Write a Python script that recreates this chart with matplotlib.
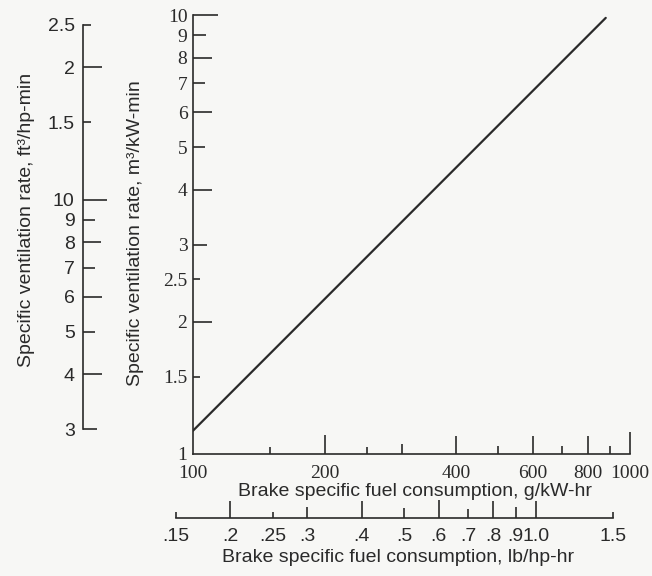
import matplotlib
matplotlib.use("Agg")
import matplotlib.pyplot as plt
from matplotlib.ticker import FixedLocator, FixedFormatter, NullLocator

# line: brake specific fuel consumption (g/kW-hr) vs ventilation rate (m3/kW-min)
bsfc_g = [100, 880]
vent_m3 = [1.13, 9.85]

# main axes ticks
x_ticks = [100, 150, 200, 250, 300, 400, 500, 600, 700, 800, 900, 1000]
x_labels = ["100", "", "200", "", "", "400", "", "600", "", "800", "", "1000"]
y_ticks = [1, 1.5, 2, 2.5, 3, 4, 5, 6, 7, 8, 9, 10]
y_labels = ["1", "1.5", "2", "2.5", "3", "4", "5", "6", "7", "8", "9", "10"]

# secondary scales
ft_ticks = [30, 40, 50, 60, 70, 80, 90, 100, 150, 200, 250]
ft_labels = ["3", "4", "5", "6", "7", "8", "9", "10", "1.5", "2", "2.5"]
lb_ticks = [0.15, 0.2, 0.25, 0.3, 0.4, 0.5, 0.6, 0.7, 0.8, 0.9, 1.0, 1.5]
lb_labels = [".15", ".2", ".25", ".3", ".4", ".5", ".6", ".7", ".8", ".9", "1.0", "1.5"]

M3KW_TO_FT3HP = 26.33   # m3/kW-min -> ft3/hp-min
LBHP_TO_GKW = 608.3     # lb/hp-hr -> g/kW-hr

INK = "#2a2a2a"
BG = "#f7f7f5"
SANS = ["Liberation Sans Narrow", "Liberation Sans", "DejaVu Sans"]
SERIF = ["Liberation Serif", "DejaVu Serif"]
W, H = 652, 576
DECADE = 437  # pixels per decade on both log axes


def set_tick_lengths(axis, lengths_px):
    for tick, L in zip(axis.get_major_ticks(), lengths_px):
        tick.tick1line.set_markersize(L * 0.72)


fig = plt.figure(figsize=(6.52, 5.76), dpi=100, facecolor=BG)
ax = fig.add_axes([193 / W, 122 / H, 437 / W, 439 / H])
ax.set_facecolor("none")

ax.plot(bsfc_g, vent_m3, color=INK, lw=1.6, solid_capstyle="round")
ax.set_xscale("log")
ax.set_yscale("log")
ax.set_xlim(100, 1000)
ax.set_ylim(1, 10)

for s in ["top", "right"]:
    ax.spines[s].set_visible(False)
for s in ["left", "bottom"]:
    ax.spines[s].set_color(INK)
    ax.spines[s].set_linewidth(1.2)

ax.xaxis.set_major_locator(FixedLocator(x_ticks))
ax.xaxis.set_major_formatter(FixedFormatter(x_labels))
ax.xaxis.set_minor_locator(NullLocator())
ax.yaxis.set_major_locator(FixedLocator(y_ticks))
ax.yaxis.set_major_formatter(FixedFormatter(y_labels))
ax.yaxis.set_minor_locator(NullLocator())
ax.tick_params(axis="both", direction="in", width=1.2, color=INK,
               labelcolor=INK, labelsize=14)
ax.tick_params(axis="x", pad=8)
ax.tick_params(axis="y", pad=4)
for lab in ax.get_xticklabels() + ax.get_yticklabels():
    lab.set_family(SERIF)
set_tick_lengths(ax.xaxis, [0, 7, 19, 7, 10, 18, 8, 18, 8, 18, 8, 22])
set_tick_lengths(ax.yaxis, [0, 7, 19, 7, 14, 19, 12, 19, 12, 19, 13, 25])

# outer left scale, ft3/hp-min
ax2 = ax.twinx()
ax2.set_yscale("log")
ax2.set_ylim(1 * M3KW_TO_FT3HP, 10 * M3KW_TO_FT3HP)
ax2.yaxis.set_ticks_position("left")
for s in ["top", "right", "bottom"]:
    ax2.spines[s].set_visible(False)
ax2.spines["left"].set_position(("axes", -110 / 437))
ax2.spines["left"].set_bounds(ft_ticks[0], ft_ticks[-1])
ax2.spines["left"].set_color(INK)
ax2.spines["left"].set_linewidth(1.2)
ax2.yaxis.set_major_locator(FixedLocator(ft_ticks))
ax2.yaxis.set_major_formatter(FixedFormatter(ft_labels))
ax2.yaxis.set_minor_locator(NullLocator())
ax2.tick_params(axis="y", direction="in", width=1.2, color=INK,
                labelcolor=INK, labelsize=14, pad=6)
for lab in ax2.get_yticklabels():
    lab.set_family(SANS)
set_tick_lengths(ax2.yaxis, [14, 19, 12, 19, 12, 18, 12, 24, 8, 19, 8])

# lower scale, lb/hp-hr: its own axes, wider than the main one so .15 fits
x3_left, x3_right = 160, 640
lo = (100 / LBHP_TO_GKW) * 10 ** (-(193 - x3_left) / DECADE)
hi = lo * 10 ** ((x3_right - x3_left) / DECADE)
ax3 = fig.add_axes([x3_left / W, 122 / H, (x3_right - x3_left) / W, 439 / H])
ax3.set_facecolor("none")
ax3.set_xscale("log")
ax3.set_xlim(lo, hi)
ax3.yaxis.set_visible(False)
for s in ["top", "right", "left"]:
    ax3.spines[s].set_visible(False)
ax3.spines["bottom"].set_position(("outward", 64 * 0.72))
ax3.spines["bottom"].set_bounds(lb_ticks[0], lb_ticks[-1])
ax3.spines["bottom"].set_color(INK)
ax3.spines["bottom"].set_linewidth(1.2)
ax3.xaxis.set_major_locator(FixedLocator(lb_ticks))
ax3.xaxis.set_major_formatter(FixedFormatter(lb_labels))
ax3.xaxis.set_minor_locator(NullLocator())
ax3.tick_params(axis="x", direction="in", width=1.2, color=INK,
                labelcolor=INK, labelsize=14, pad=7)
for lab in ax3.get_xticklabels():
    lab.set_family(SANS)
set_tick_lengths(ax3.xaxis, [6, 17, 6, 11, 17, 10, 18, 9, 17, 11, 17, 6])

# axis titles
fig.text(415 / W, 1 - 492 / H, "Brake specific fuel consumption, g/kW-hr",
         ha="center", va="center", fontsize=14, color=INK, family=SANS)
fig.text(398 / W, 1 - 557 / H, "Brake specific fuel consumption, lb/hp-hr",
         ha="center", va="center", fontsize=14, color=INK, family=SANS)
fig.text(135 / W, 1 - 233 / H, "Specific ventilation rate, m³/kW-min",
         ha="center", va="center", rotation=90, fontsize=14, color=INK, family=SANS)
fig.text(27 / W, 1 - 220 / H, "Specific ventilation rate, ft³/hp-min",
         ha="center", va="center", rotation=90, fontsize=14, color=INK, family=SANS)

fig.savefig("out.png", dpi=100, facecolor=BG)
